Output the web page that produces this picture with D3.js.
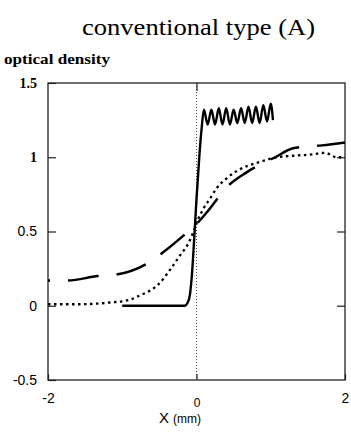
<!DOCTYPE html>
<html>
<head>
<meta charset="utf-8">
<script src="https://cdn.jsdelivr.net/npm/d3@7"></script>
<style>
  body { margin: 0; background: #fff; }
  svg { display: block; }
</style>
</head>
<body>
<svg id="chart" width="351" height="433"></svg>
<script>
// tick values
let y_ticks = [-0.5, 0, 0.5, 1, 1.5],
    x_ticks = [-2, 0, 2];

// solid curve: sharp step then sawtooth
let solid_x = [-1.0, -0.16, -0.12, -0.09, -0.06, -0.03, 0.0, 0.04, 0.07, 0.10,
               0.15, 0.20, 0.25, 0.30, 0.35, 0.40, 0.45, 0.50, 0.55, 0.60,
               0.65, 0.70, 0.75, 0.80, 0.85, 0.90, 0.95, 1.00, 1.03],
    solid_y = [0, 0, 0.02, 0.07, 0.22, 0.46, 0.72, 1.02, 1.2, 1.32,
               1.22, 1.32, 1.22, 1.33, 1.22, 1.33, 1.22, 1.32, 1.23, 1.33,
               1.23, 1.34, 1.23, 1.34, 1.23, 1.35, 1.24, 1.36, 1.25];

// long dashed curve
let dash_x = [-2.0, -1.73, -1.33, -1.08, -0.68, -0.45, -0.09, 0.0, 0.14, 0.43, 0.68, 1.06, 1.30, 1.69, 2.0],
    dash_y = [0.17, 0.17, 0.20, 0.21, 0.28, 0.36, 0.51, 0.55, 0.63, 0.81, 0.90, 1.0, 1.06, 1.08, 1.10];

// dotted curve
let dot_x = [-2.0, -1.6, -1.2, -0.9, -0.76, -0.6, -0.5, -0.36, -0.22, -0.11, -0.04, 0.02, 0.1, 0.18,
             0.27, 0.41, 0.55, 0.68, 0.86, 1.08, 1.3, 1.57, 1.73, 1.89, 2.0],
    dot_y = [0.01, 0.01, 0.02, 0.04, 0.07, 0.11, 0.15, 0.24, 0.34, 0.42, 0.5, 0.58, 0.66, 0.72,
             0.79, 0.86, 0.91, 0.94, 0.97, 1.0, 1.01, 1.02, 1.03, 1.0, 1.0];

let margin = {left: 48, right: 6, top: 83, bottom: 53},
    width = 351, height = 433;

let x = d3.scaleLinear().domain([-2, 2]).range([margin.left, width - margin.right]),
    y = d3.scaleLinear().domain([-0.5, 1.5]).range([height - margin.bottom, margin.top]);

let svg = d3.select("#chart");

function pairs(xs, ys) {
  return xs.map((d, i) => [d, ys[i]]);
}

let line = d3.line()
  .curve(d3.curveMonotoneX)
  .x(d => x(d[0]))
  .y(d => y(d[1]));

// title and y label
svg.append("text")
  .attr("x", 198.5).attr("y", 35)
  .attr("text-anchor", "middle")
  .attr("font-family", "Liberation Serif")
  .attr("font-size", 24)
  .attr("textLength", 233)
  .attr("lengthAdjust", "spacingAndGlyphs")
  .text("conventional type (A)");

svg.append("text")
  .attr("x", 4).attr("y", 64)
  .attr("font-family", "Liberation Serif")
  .attr("font-weight", "bold")
  .attr("font-size", 14)
  .attr("textLength", 106)
  .attr("lengthAdjust", "spacingAndGlyphs")
  .text("optical density");

// zero line
svg.append("line")
  .attr("x1", x(0)).attr("x2", x(0))
  .attr("y1", y(1.5)).attr("y2", y(-0.5))
  .attr("stroke", "#444")
  .attr("stroke-width", 1)
  .attr("stroke-dasharray", "1,2");

// frame
svg.append("rect")
  .attr("x", x(-2)).attr("y", y(1.5))
  .attr("width", x(2) - x(-2))
  .attr("height", y(-0.5) - y(1.5))
  .attr("fill", "none")
  .attr("stroke", "#222")
  .attr("stroke-width", 1.3);

// axes (ticks inside)
let fmt = d => String(d);

let left_axis = svg.append("g")
  .attr("transform", `translate(${x(-2)},0)`)
  .call(d3.axisLeft(y).tickValues(y_ticks).tickSize(-8).tickPadding(11).tickFormat(fmt));

left_axis.selectAll("text")
  .attr("font-family", d => d >= 1 ? "Liberation Serif" : "Liberation Sans")
  .attr("font-weight", d => d >= 1 ? "bold" : "normal")
  .attr("font-size", 14)
  .attr("fill", "#000");

svg.append("g")
  .attr("transform", `translate(${x(2)},0)`)
  .call(d3.axisRight(y).tickValues([0, 0.5, 1]).tickSize(-8).tickFormat(""));

svg.append("g")
  .attr("transform", `translate(0,${y(1.5)})`)
  .call(d3.axisTop(x).tickValues([0]).tickSize(-8).tickFormat(""));

let bottom_axis = svg.append("g")
  .attr("transform", `translate(0,${y(-0.5)})`)
  .call(d3.axisBottom(x).tickValues(x_ticks).tickSize(-6).tickPadding(18).tickFormat(fmt));

bottom_axis.selectAll("text")
  .attr("font-family", "Liberation Sans")
  .attr("font-size", d => d === 0 ? 12 : 14)
  .attr("dy", d => d === 0 ? "0.71em" : "0.35em")
  .attr("fill", "#000");

svg.selectAll(".domain").remove();
svg.selectAll(".tick line").attr("stroke", "#222").attr("stroke-width", 1.2);

// x label
let xl = svg.append("text")
  .attr("x", 180).attr("y", 423)
  .attr("text-anchor", "middle")
  .attr("font-family", "Liberation Sans");
xl.append("tspan").attr("font-size", 15).text("X ");
xl.append("tspan").attr("font-size", 12).text("(mm)");

// curves
svg.append("path")
  .datum(pairs(dot_x, dot_y))
  .attr("d", line)
  .attr("fill", "none")
  .attr("stroke", "#000")
  .attr("stroke-width", 2.3)
  .attr("stroke-dasharray", "2.5,3.5");

svg.append("path")
  .datum(pairs(dash_x, dash_y))
  .attr("d", line)
  .attr("fill", "none")
  .attr("stroke", "#000")
  .attr("stroke-width", 2.5)
  .attr("stroke-dasharray", "31,18")
  .attr("stroke-dashoffset", 29);

svg.append("path")
  .datum(pairs(solid_x, solid_y))
  .attr("d", line)
  .attr("fill", "none")
  .attr("stroke", "#000")
  .attr("stroke-width", 2.4);
</script>
</body>
</html>
